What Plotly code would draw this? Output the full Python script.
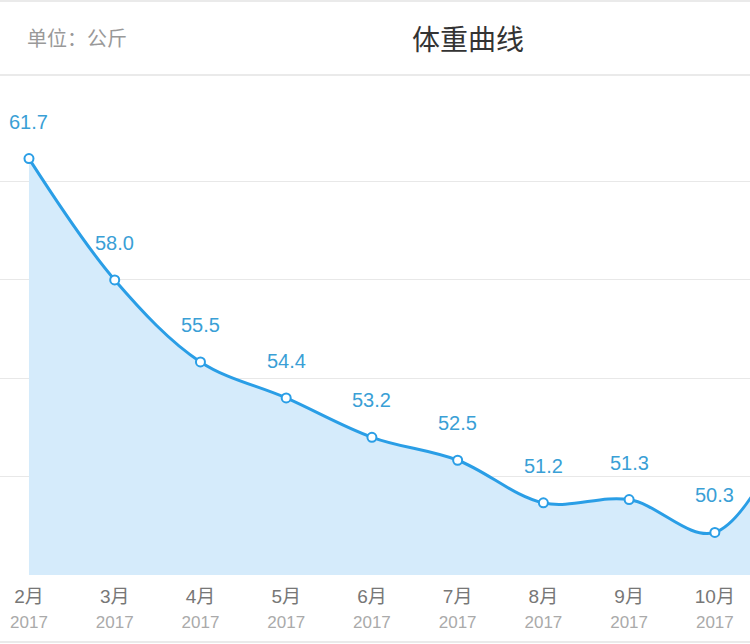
import plotly.graph_objects as go

months = ["2月", "3月", "4月", "5月", "6月", "7月", "8月", "9月", "10月", "11月"]
years = ["2017"] * 10
weights = [61.7, 58.0, 55.5, 54.4, 53.2, 52.5, 51.2, 51.3, 50.3, 54.3]
labels = ["61.7", "58.0", "55.5", "54.4", "53.2", "52.5", "51.2", "51.3", "50.3", ""]
grid_vals = [52, 55, 58, 61]

W, H = 750, 644
LINE = "#2a9ee6"
FILL = "#d5ebfb"
TXT = "#3a9fd6"
FONT = "Liberation Sans, Noto Sans CJK SC"
CJK = "Noto Sans CJK SC"

xs = list(range(len(months)))

fig = go.Figure()
fig.add_trace(go.Scatter(
    x=xs, y=weights, mode="lines+markers",
    line=dict(color=LINE, width=3, shape="spline", smoothing=1),
    marker=dict(size=9, color="white", line=dict(color=LINE, width=2)),
    fill="tozeroy", fillcolor=FILL,
    hoverinfo="skip", showlegend=False,
))

for x, v, t in zip(xs, weights, labels):
    if t:
        fig.add_annotation(x=x, y=v, text=t, showarrow=False, yshift=37,
                           font=dict(family=FONT, size=20, color=TXT))

ticktext = [f"<span style='color:#777;font-size:19px'>{m}</span><br>"
            f"<span style='color:#aaa;font-size:17px'>{y}</span>"
            for m, y in zip(months, years)]

y_bot = (H - 575) / H
y_top = (H - 75) / H

fig.update_layout(
    width=W, height=H,
    margin=dict(l=0, r=0, t=0, b=0),
    paper_bgcolor="white", plot_bgcolor="white",
    font=dict(family=FONT),
    xaxis=dict(range=[-0.338, 8.41], tickvals=xs, ticktext=ticktext,
               showgrid=False, zeroline=False, showline=False, ticks="",
               ticklabelstandoff=8,
               tickfont=dict(size=19, family=FONT, color="#777")),
    yaxis=dict(range=[49, 64.25], domain=[y_bot, y_top], tickvals=grid_vals,
               showticklabels=False, gridcolor="#e8e8e8", gridwidth=1,
               zeroline=False, showline=False),
)

# header / border lines
for yp in [H - 1, H - 75, 2]:
    fig.add_shape(type="line", xref="paper", yref="paper", x0=0, x1=1,
                  y0=yp / H, y1=yp / H, line=dict(color="#e3e3e3", width=1.5))

fig.add_annotation(xref="paper", yref="paper", x=468 / W, y=(H - 38) / H,
                   xanchor="center", yanchor="middle",
                   text="体重曲线", showarrow=False,
                   font=dict(family=CJK, size=28, color="#333"))
fig.add_annotation(xref="paper", yref="paper", x=25 / W, y=(H - 38) / H,
                   xanchor="left", yanchor="middle", text="单位：公斤", showarrow=False,
                   font=dict(family=CJK, size=20, color="#999"))

fig.write_html("out.html")
